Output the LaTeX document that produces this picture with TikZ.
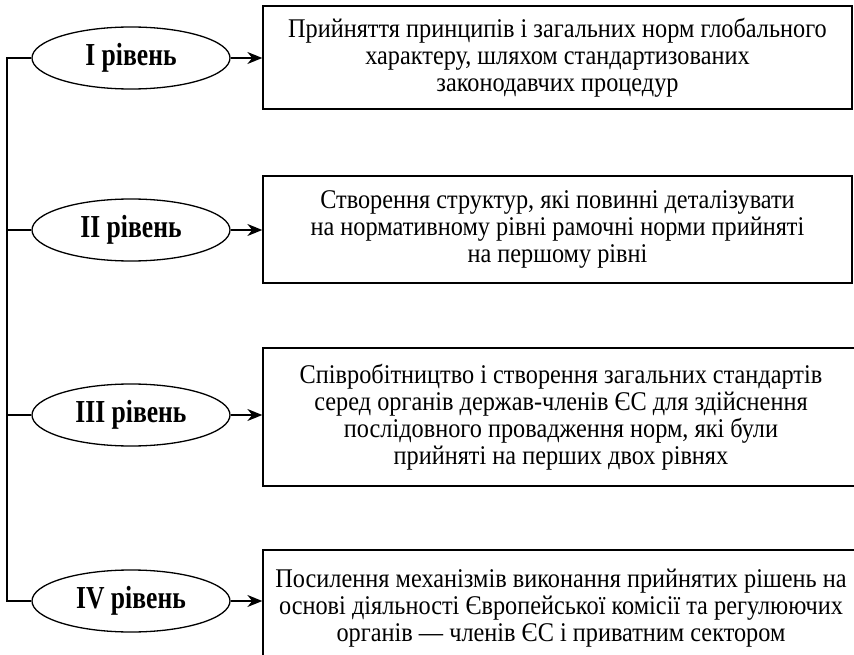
\documentclass[tikz,border=0pt]{standalone}
\usepackage{fontspec}
\setmainfont{Liberation Serif}[FakeStretch=0.9]
\newfontfamily\lvlfont{Liberation Serif}[FakeStretch=0.8]
\usetikzlibrary{shapes.geometric, arrows.meta}

\begin{document}
\begin{tikzpicture}[x=1pt, y=-1pt,
  lvl/.style={draw, ellipse, line width=1.3pt, minimum width=198pt, minimum height=62pt, inner sep=0pt, font=\lvlfont\bfseries\fontsize{32}{34}\selectfont},
  desc/.style={draw, rectangle, line width=1.3pt, minimum width=589pt, align=center, inner sep=0pt, font=\fontsize{27}{27}\selectfont},
  link/.style={line width=1.3pt, -{Stealth[length=15pt, width=12pt]}}]
\useasboundingbox (0, 0) rectangle (854, 655);
\clip (0, 0) rectangle (854, 655);

\node[lvl] (l1) at (131, 58) {I рівень};
\node[lvl] (l2) at (131, 230) {II рівень};
\node[lvl] (l3) at (131, 415) {III рівень};
\node[lvl] (l4) at (131, 601) {IV рівень};

\node[desc, minimum height=103pt] (d1) at (557.5, 57.5) {Прийняття принципів і загальних норм глобального\\характеру, шляхом стандартизованих\\законодавчих процедур};
\node[desc, minimum height=107pt] (d2) at (557.5, 229.5) {Створення структур, які повинні деталізувати\\на нормативному рівні рамочні норми прийняті\\на першому рівні};
\node[desc, minimum height=138pt, minimum width=596pt] (d3) at (561, 417) {Співробітництво і створення загальних стандартів\\серед органів держав-членів ЄС для здійснення\\послідовного провадження норм, які були\\прийняті на перших двох рівнях};
\node[desc, minimum height=116pt, minimum width=596pt] (d4) at (561, 608) {Посилення механізмів виконання прийнятих рішень на\\основі діяльності Європейської комісії та регулюючих\\органів — членів ЄС і приватним сектором};

\coordinate (top) at (7, 58);
\coordinate (bot) at (7, 601);
\draw[line width=1.3pt] (l1.west) -- (top) -- (bot) -- (l4.west);
\draw[line width=1.3pt] (l2.west) -- (l2.west -| top);
\draw[line width=1.3pt] (l3.west) -- (l3.west -| top);

\draw[link] (l1.east) -- (l1.east -| d1.west);
\draw[link] (l2.east) -- (l2.east -| d2.west);
\draw[link] (l3.east) -- (l3.east -| d3.west);
\draw[link] (l4.east) -- (l4.east -| d4.west);

\end{tikzpicture}
\end{document}
